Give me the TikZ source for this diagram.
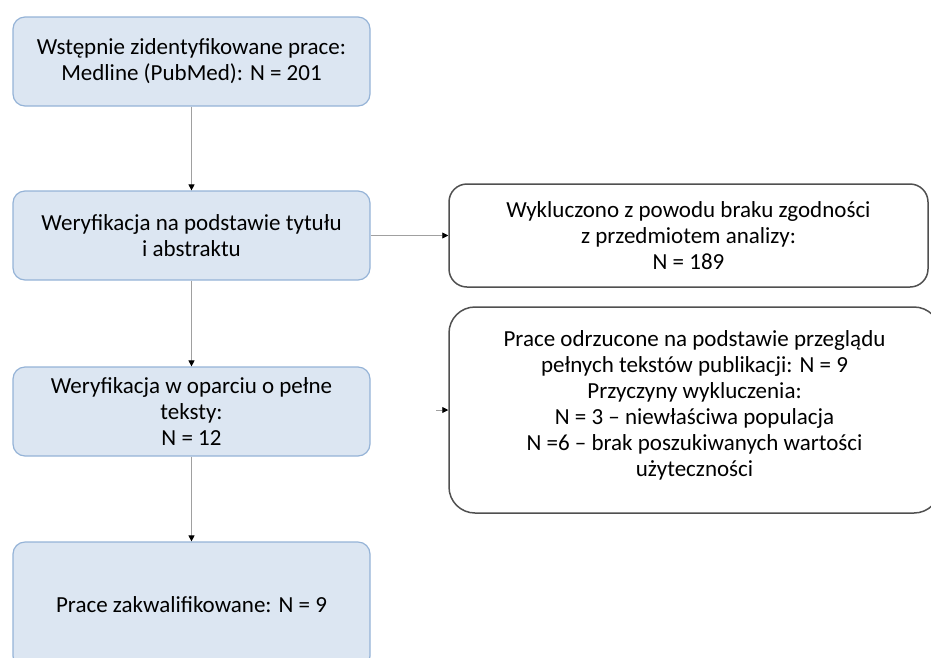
\documentclass[tikz,border=0pt]{standalone}
\usepackage{fontspec}
\setmainfont{Carlito}
\usetikzlibrary{arrows.meta}
\definecolor{stagefill}{RGB}{220,230,242}
\definecolor{stageline}{RGB}{149,179,215}
\definecolor{exclline}{RGB}{80,80,80}
\definecolor{linkline}{RGB}{160,160,160}
\begin{document}
\begin{tikzpicture}
      [x=1pt, y=-1pt, font=\fontsize{23}{26}\selectfont,
       stage/.style={draw=stageline, fill=stagefill, line width=1.2pt, rounded corners=12pt,
                     minimum width=357pt, minimum height=89pt, align=center, inner sep=4pt},
       excl/.style={draw=exclline, fill=white, line width=1.5pt, rounded corners=18pt,
                    align=center, inner sep=4pt},
       link/.style={draw=linkline, line width=0.8pt, -{Triangle[black, length=6pt, width=6pt]}}]
      \useasboundingbox (0,0) rectangle (931,657);
      \clip (0,0) rectangle (931,657);
      \node[stage](1) at (191.5, 61.5) {Wstępnie zidentyfikowane prace:\\Medline (PubMed): N = 201};
      \node[stage](2) at (191.5, 235.5) {Weryfikacja na podstawie tytułu\\i abstraktu};
      \node[stage](3) at (191.5, 411.5) {Weryfikacja w oparciu o pełne\\teksty:\\N = 12};
      \node[stage, minimum height=126pt](4) at (191.5, 605) {Prace zakwalifikowane: N = 9};
      \node[excl, minimum width=479pt, minimum height=103pt](5) at (688.5, 235.5)
        {Wykluczono z powodu braku zgodności\\z przedmiotem analizy:\\N = 189};
      \node[excl, rounded corners=26pt, minimum width=491pt, minimum height=206pt](6) at (694.5, 410)
        {Prace odrzucone na podstawie przeglądu\\pełnych tekstów publikacji: N = 9\\Przyczyny wykluczenia:\\N = 3 -- niewłaściwa populacja\\N =6 -- brak poszukiwanych wartości\\użyteczności\\[-14pt]};
      \coordinate(7) at (436, 410);
      \draw[link](1) -- (2);
      \draw[link](2) -- (3);
      \draw[link](3) -- (4);
      \draw[link](2) -- (5);
      \draw[link](7) -- (6);
  \end{tikzpicture}
\end{document}
